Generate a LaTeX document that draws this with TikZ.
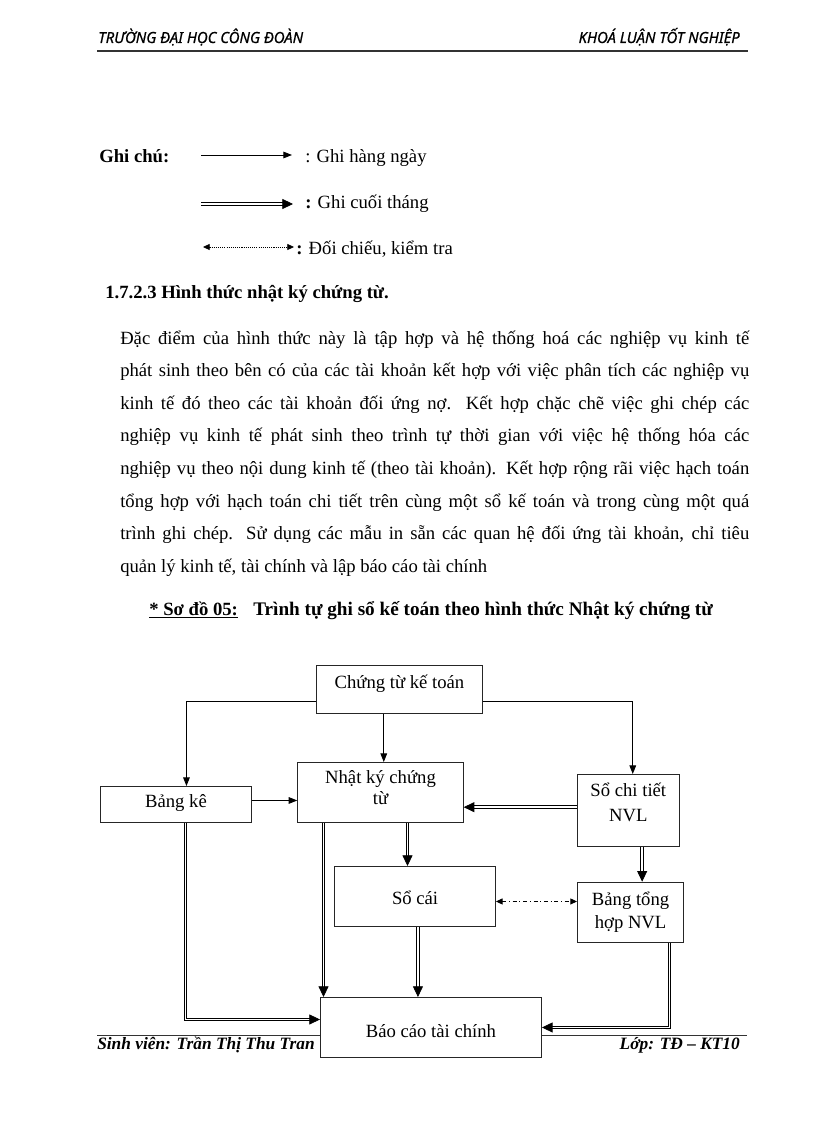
\documentclass[tikz,border=0pt]{standalone}
\usepackage{fontspec}
\setmainfont{Liberation Serif}
\newfontfamily\hdrfont[FakeStretch=0.97,FakeBold=0.6]{Noto Sans}
\usetikzlibrary{arrows.meta,calc}
\begin{document}
\begin{tikzpicture}[x=0.75pt,y=-0.75pt,
  box/.style={draw=black!85, line width=0.7pt, fill=white, inner sep=0pt, align=center,
              anchor=north west, font=\fontsize{14}{16}\selectfont},
  thinarr/.style={draw=black, line width=0.7pt, -{Triangle[length=6.5pt,width=5pt]}},
  dblarr/.style={draw=black, double=white, double distance=1.4pt, line width=0.6pt,
                 -{Triangle[length=8pt,width=7.5pt]}},
  chkarr/.style={draw=black, line width=0.7pt, dash pattern=on 3pt off 2pt on 0.8pt off 2pt,
                 {Triangle[length=5pt,width=4.5pt]}-{Triangle[length=5pt,width=4.5pt]}},
  legdot/.style={draw=black, line width=0.6pt, dash pattern=on 0.8pt off 0.8pt,
                 {Triangle[length=5pt,width=4.5pt]}-{Triangle[length=5pt,width=4.5pt]}},
  body/.style={font=\fontsize{14}{16}\selectfont, inner sep=0pt, anchor=base west},
  bbody/.style={font=\bfseries\fontsize{14}{16}\selectfont, inner sep=0pt, anchor=base west},
  hdr/.style={font=\hdrfont\itshape\fontsize{11.5}{13}\selectfont, inner sep=0pt},
  ftr/.style={font=\bfseries\itshape\fontsize{13}{15}\selectfont, inner sep=0pt},
  rule/.style={draw=black!80, line width=0.8pt},
]
\fill[white] (0,0) rectangle (816,1123);
\useasboundingbox (0,0) rectangle (816,1123);

% header
\node[hdr, anchor=base west] (hl) at (98,43) {TRƯỜNG ĐẠI HỌC CÔNG ĐOÀN};
\node[hdr, anchor=base east] (hr) at (740,43) {KHOÁ LUẬN TỐT NGHIỆP};
\coordinate (hla) at (97,51);
\coordinate (hlb) at (748,51);
\draw[rule] (hla) -- (hlb);

% legend
\node[bbody] (gc) at (99,163) {Ghi chú:};
\coordinate (a1s) at (201,155);
\coordinate (a1e) at (292,155);
\draw[thinarr] (a1s) -- (a1e);
\node[body] (t1) at (305,163) {: Ghi hàng ngày};
\coordinate (a2s) at (201,204);
\coordinate (a2e) at (293,204);
\draw[dblarr] (a2s) -- (a2e);
\node[body] (t2) at (305,209) {\textbf{:} Ghi cuối tháng};
\coordinate (a3s) at (203,247);
\coordinate (a3e) at (294,247);
\draw[legdot] (a3s) -- (a3e);
\node[body] (t3) at (296,254) {\textbf{:} Đối chiếu, kiểm tra};

% heading
\node[bbody] (h) at (105,298) {1.7.2.3 Hình thức nhật ký chứng từ.};

% paragraph
\node[body] (p1) at (120,344.0) {\makebox[471.75pt][s]{Đặc điểm của hình thức này là tập hợp và hệ thống hoá các nghiệp vụ kinh tế}};
\node[body] (p2) at (120,376.6) {\makebox[471.75pt][s]{phát sinh theo bên có của các tài khoản kết hợp với việc phân tích các nghiệp vụ}};
\node[body] (p3) at (120,409.2) {\makebox[471.75pt][s]{kinh tế đó theo các tài khoản đối ứng nợ. Kết hợp chặc chẽ việc ghi chép các}};
\node[body] (p4) at (120,441.8) {\makebox[471.75pt][s]{nghiệp vụ kinh tế phát sinh theo trình tự thời gian với việc hệ thống hóa các}};
\node[body] (p5) at (120,474.4) {\makebox[471.75pt][s]{nghiệp vụ theo nội dung kinh tế (theo tài khoản). Kết hợp rộng rãi việc hạch toán}};
\node[body] (p6) at (120,507.0) {\makebox[471.75pt][s]{tổng hợp với hạch toán chi tiết trên cùng một sổ kế toán và trong cùng một quá}};
\node[body] (p7) at (120,539.6) {\makebox[471.75pt][s]{trình ghi chép. Sử dụng các mẫu in sẵn các quan hệ đối ứng tài khoản, chỉ tiêu}};
\node[body] (p8) at (120,572.2) {quản lý kinh tế, tài chính và lập báo cáo tài chính};

% title
\node[bbody] (tt1) at (149,615) {\underline{* Sơ đồ 05:}};
\node[bbody, font=\bfseries\fontsize{14.4}{16}\selectfont] (tt2) at (253,615) {Trình tự ghi sổ kế toán theo hình thức Nhật ký chứng từ};

% footer (drawn before the boxes, the last box covers it)
\coordinate (fla) at (97,1035.5);
\coordinate (flb) at (747,1035.5);
\draw[rule] (fla) -- (flb);
\node[ftr, anchor=base west] (fl) at (97,1049) {Sinh viên: Trần Thị Thu Tran};
\node[ftr, anchor=base east] (fr) at (740,1049) {Lớp: TĐ – KT10};

% boxes (for two-line boxes, text height is measured to the last line's baseline)
\node[box, minimum width=124.5pt, text height=17.25pt, text depth=18.75pt] (ct) at (316,665) {Chứng từ kế toán};
\node[box, minimum width=113.25pt, text height=15.4pt, text depth=11.6pt] (bk) at (100,786) {Bảng kê};
\node[box, minimum width=124.1pt, text height=31.5pt, text depth=13.5pt] (nk) at (297.3,762) {Nhật ký chứng\\từ};
\node[box, minimum width=76.7pt, text height=35pt, text depth=19pt] (sct) at (576.7,774) {Sổ chi tiết\\[2.75pt]NVL};
\node[box, minimum width=120.5pt, text height=28.3pt, text depth=16.7pt] (sc) at (334.3,866) {Sổ cái};
\node[box, minimum width=79.7pt, text height=34.95pt, text depth=10.05pt] (bth) at (577,881.7) {Bảng tổng\\[1.5pt]hợp NVL};
\node[box, minimum width=165.75pt, text height=30pt, text depth=15pt] (bc) at (320,997) {Báo cáo tài chính};

% connectors
\coordinate (ctL) at ($(ct.west)+(0,12)$);
\coordinate (ctR) at ($(ct.east)+(0,12)$);
\coordinate (ctB) at ($(ct.south)+(-15.7,0)$);
\coordinate (bkT) at ($(bk.north)+(10.5,0)$);
\coordinate (sctT) at ($(sct.north)+(4.45,0)$);
\coordinate (bkR) at ($(bk.east)+(0,-4)$);
\coordinate (sctL) at ($(sct.west)+(0,-3.3)$);
\coordinate (nkB1) at ($(nk.south)+(27,0)$);
\coordinate (nkB2) at ($(nk.south)+(-57,0)$);
\coordinate (bkB) at ($(bk.south)+(9.5,0)$);
\coordinate (bcL) at ($(bc.west)+(0,-8)$);
\coordinate (scB) at ($(sc.south)+(2.85,0)$);
\coordinate (sctB) at ($(sct.south)+(13.85,0)$);
\coordinate (bthB) at ($(bth.south)+(38.85,0)$);
\coordinate (scR) at ($(sc.east)+(0,5)$);

\draw[thinarr] (ctL) -| (bkT);
\draw[thinarr] (ctB) -- (ctB |- nk.north);
\draw[thinarr] (ctR) -| (sctT);
\draw[thinarr] (bkR) -- (bkR -| nk.west);
\draw[dblarr] (sctL) -- (sctL -| nk.east);
\draw[dblarr] (nkB1) -- (nkB1 |- sc.north);
\draw[dblarr] (nkB2) -- (nkB2 |- bc.north);
\draw[dblarr] (bkB) |- (bcL);
\draw[dblarr] (scB) -- (scB |- bc.north);
\draw[dblarr] (sctB) -- (sctB |- bth.north);
\draw[dblarr] (bthB) |- (bc.east);
\draw[chkarr] (scR) -- (scR -| bth.west);
\end{tikzpicture}
\end{document}
